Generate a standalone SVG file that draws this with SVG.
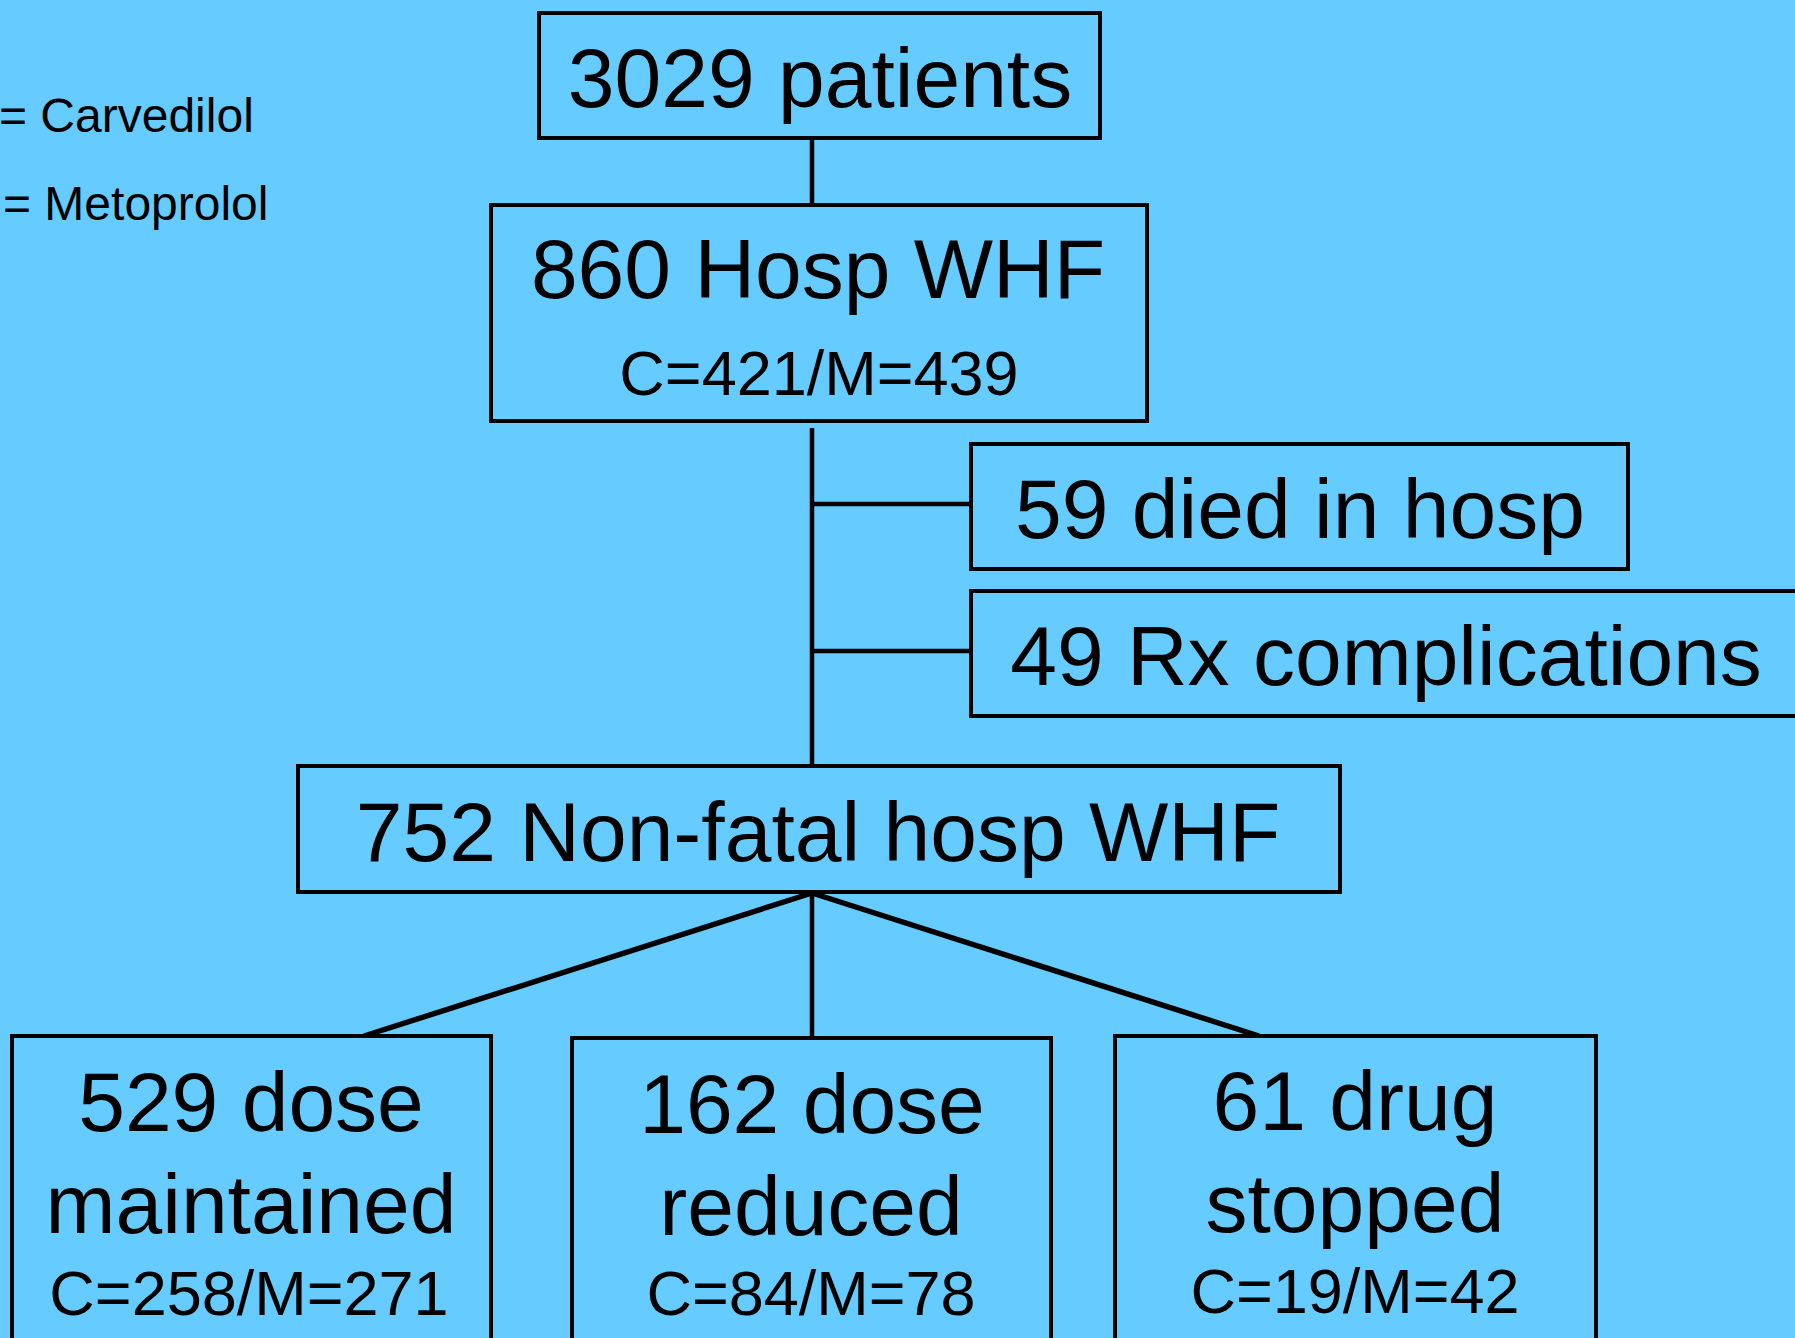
<svg xmlns="http://www.w3.org/2000/svg" width="1795" height="1338" viewBox="0 0 1795 1338">
<style>
.box{fill:#66CCFF;stroke:#000;stroke-width:4}
.ln{stroke:#000;stroke-width:4.5;fill:none}
.dg{stroke:#000;stroke-width:5.5;fill:none}
text{font-family:"Liberation Sans",Arial,sans-serif;fill:#000}
.big{font-size:84px;text-anchor:middle}
.sub{font-size:63px;text-anchor:middle}
.leg{font-size:48px}
</style>
<rect x="0" y="0" width="1795" height="1338" fill="#66CCFF"/>
<g id="legend">
<text class="leg" x="-1" y="132">= Carvedilol</text>
<text class="leg" x="3" y="220">= Metoprolol</text>
</g>
<g id="connectors">
<line class="ln" x1="812" y1="138" x2="812" y2="205"/>
<line class="ln" x1="812" y1="428" x2="812" y2="766"/>
<line class="ln" x1="812" y1="504" x2="971" y2="504"/>
<line class="ln" x1="812" y1="651" x2="971" y2="651"/>
<line class="dg" x1="812" y1="893" x2="364" y2="1036"/>
<line class="ln" x1="812" y1="893" x2="812" y2="1037"/>
<line class="dg" x1="812" y1="893" x2="1259" y2="1036"/>
</g>
<g id="n1">
<rect class="box" x="539" y="13" width="561" height="125"/>
<text class="big" x="820" y="107">3029 patients</text>
</g>
<g id="n2">
<rect class="box" x="491" y="205" width="656" height="216"/>
<text class="big" x="818" y="298">860 Hosp WHF</text>
<text class="sub" x="819" y="395">C=421/M=439</text>
</g>
<g id="n3">
<rect class="box" x="971" y="444" width="657" height="125"/>
<text class="big" x="1300" y="538">59 died in hosp</text>
</g>
<g id="n4">
<rect class="box" x="971" y="591" width="840" height="125"/>
<text class="big" x="1386" y="685">49 Rx complications</text>
</g>
<g id="n5">
<rect class="box" x="298" y="766" width="1042" height="126"/>
<text class="big" x="818" y="861">752 Non-fatal hosp WHF</text>
</g>
<g id="n6">
<rect class="box" x="12" y="1036" width="479" height="320"/>
<text class="big" x="251" y="1131">529 dose</text>
<text class="big" x="251" y="1233">maintained</text>
<text class="sub" x="249" y="1315">C=258/M=271</text>
</g>
<g id="n7">
<rect class="box" x="572" y="1038" width="479" height="320"/>
<text class="big" x="812" y="1133">162 dose</text>
<text class="big" x="811" y="1235">reduced</text>
<text class="sub" x="811" y="1315">C=84/M=78</text>
</g>
<g id="n8">
<rect class="box" x="1115" y="1036" width="481" height="320"/>
<text class="big" x="1355" y="1130">61 drug</text>
<text class="big" x="1355" y="1232">stopped</text>
<text class="sub" x="1355" y="1313">C=19/M=42</text>
</g>
</svg>
